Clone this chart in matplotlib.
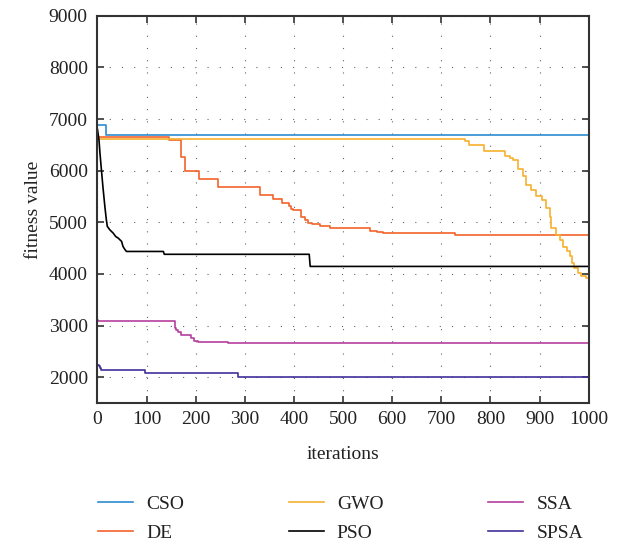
import matplotlib.pyplot as plt
import numpy as np

# best fitness per iteration, stored as (iteration where value changes, new value)
cso_it = [0, 17]
cso_val = [6890, 6700]

de_it = [0, 146, 169, 179, 207, 246, 330, 357, 376, 390, 394, 398, 415, 422,
         429, 436, 452, 473, 554, 568, 581, 727]
de_val = [6650, 6590, 6270, 6000, 5830, 5690, 5520, 5455, 5370, 5320, 5255, 5230,
          5110, 5050, 4985, 4970, 4920, 4880, 4835, 4805, 4790, 4745]

gwo_it = [0, 748, 756, 787, 829, 839, 846, 856, 866, 873, 883, 893, 904, 914,
          921, 924, 934, 941, 948, 955, 961, 967, 971, 978, 985, 995]
gwo_val = [6620, 6580, 6490, 6385, 6280, 6240, 6200, 6030, 5890, 5725, 5630, 5500,
           5435, 5275, 5110, 4890, 4760, 4660, 4530, 4435, 4340, 4210, 4115, 4020,
           3950, 3920]

# PSO is kept as a polyline (fast early descent), plateaus given explicitly
pso_it = [0, 1, 3, 5, 8, 11, 15, 18, 20, 25, 32, 37, 42, 49, 52, 56, 59,
          134, 136, 431, 433, 1000]
pso_val = [6800, 6730, 6600, 6340, 6015, 5690, 5305, 5050, 4920, 4855, 4790, 4725,
           4695, 4630, 4530, 4470, 4435, 4435, 4380, 4380, 4145, 4145]

ssa_it = [0, 2, 157, 159, 164, 171, 191, 196, 205, 239, 266]
ssa_val = [3110, 3080, 2960, 2920, 2870, 2825, 2760, 2695, 2683, 2675, 2662]

spsa_it = [0, 3, 5, 8, 96, 286]
spsa_val = [2240, 2220, 2180, 2130, 2075, 2005]

n_iter = 1000

series = [
    ("CSO", cso_it, cso_val, "#2e8bd0", True),
    ("DE", de_it, de_val, "#f4622a", True),
    ("GWO", gwo_it, gwo_val, "#f7b02e", True),
    ("PSO", pso_it, pso_val, "black", False),
    ("SSA", ssa_it, ssa_val, "#b5409e", True),
    ("SPSA", spsa_it, spsa_val, "#40309a", True),
]

plt.rcParams['font.family'] = ['Liberation Serif', 'DejaVu Serif']
plt.rcParams['font.size'] = 14

fig = plt.figure(figsize=(6.21, 5.46), dpi=100)
ax = fig.add_axes([0.157, 0.262, 0.791, 0.709])

for name, it, val, col, stepped in series:
    if stepped:
        x = np.append(it, n_iter)
        y = np.append(val, val[-1])
        ax.step(x, y, where='post', color=col, lw=1.2, label=name)
    else:
        ax.plot(it, val, color=col, lw=1.2, label=name)

ax.set_xlim(0, 1000)
ax.set_ylim(1500, 9000)
ax.set_xticks(np.arange(0, 1001, 100))
ax.set_yticks(np.arange(2000, 9001, 1000))
ax.grid(True, color='#666666', lw=0.8, linestyle=(0, (1, 10)))
ax.tick_params(direction='in', top=True, right=True, length=5, width=1.2,
               color='#333333', labelcolor='#222222', labelsize=14)
ax.tick_params(axis='x', pad=6)
ax.tick_params(axis='y', pad=7)
for s in ax.spines.values():
    s.set_color('#333333')
    s.set_linewidth(1.5)

ax.set_xlabel('iterations', fontsize=14, color='#222222', labelpad=13)
ax.set_ylabel('fitness value', fontsize=14, color='#222222', labelpad=5)

fig.legend(loc='upper left', bbox_to_anchor=(0.142, 0.11), ncol=3, frameon=False,
           fontsize=14, handlelength=1.8, handletextpad=0.67, columnspacing=5.4,
           labelspacing=0.55, borderpad=0, labelcolor='#222222')

fig.savefig('out.png', dpi=100)
